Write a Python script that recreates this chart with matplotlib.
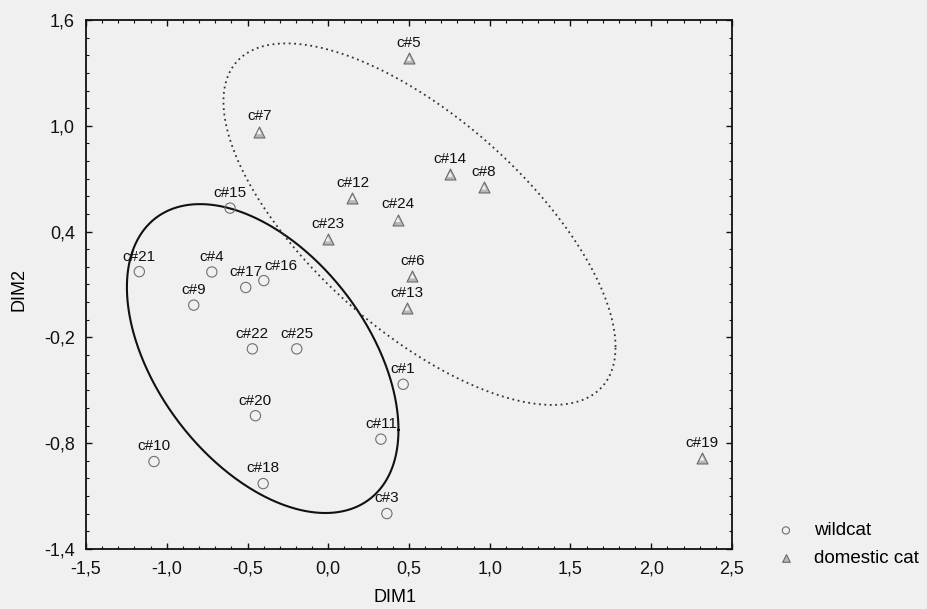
import numpy as np
import matplotlib
matplotlib.use('Agg')
import matplotlib.pyplot as plt
from matplotlib.ticker import MultipleLocator, FixedLocator, FuncFormatter

plt.rcParams['font.family'] = ['Liberation Sans', 'DejaVu Sans']

# wildcat samples (DIM1, DIM2)
wild_labels = ['c#1', 'c#3', 'c#4', 'c#9', 'c#10', 'c#11', 'c#15', 'c#16', 'c#17',
               'c#18', 'c#20', 'c#21', 'c#22', 'c#25']
wild_x = [0.464, 0.363, -0.721, -0.833, -1.079, 0.326, -0.608, -0.399, -0.511,
          -0.403, -0.451, -1.170, -0.470, -0.195]
wild_y = [-0.466, -1.199, 0.171, -0.017, -0.904, -0.777, 0.533, 0.122, 0.083,
          -1.029, -0.644, 0.173, -0.265, -0.265]

# domestic cat samples
dom_labels = ['c#5', 'c#6', 'c#7', 'c#8', 'c#12', 'c#13', 'c#14', 'c#19', 'c#23', 'c#24']
dom_x = [0.501, 0.520, -0.428, 0.964, 0.150, 0.489, 0.755, 2.315, -0.003, 0.431]
dom_y = [1.382, 0.148, 0.967, 0.652, 0.592, -0.034, 0.724, -0.885, 0.358, 0.468]

# ellipses: centre and covariance-like matrix [[a, c], [c, b]]
wild_center = (-0.406, -0.320)
wild_cov = [[0.707, -0.340], [-0.340, 0.767]]
dom_center = (0.565, 0.442)
dom_cov = [[1.474, -0.845], [-0.845, 1.051]]

x_ticks = [-1.5, -1.0, -0.5, 0.0, 0.5, 1.0, 1.5, 2.0, 2.5]
y_ticks = [-1.4, -0.8, -0.2, 0.4, 1.0, 1.6]

# label nudges (points) where the label would collide
label_dx = {'c#16': 12}

bg = '#f0f0f1'
fig = plt.figure(figsize=(9.27, 6.09), dpi=100, facecolor=bg)
ax = fig.add_axes([0.0928, 0.0985, 0.6968, 0.8687], facecolor=bg)


def ellipse_xy(center, cov):
    t = np.linspace(0, 2 * np.pi, 500)
    L = np.linalg.cholesky(np.array(cov))
    pts = L @ np.vstack([np.cos(t), np.sin(t)])
    return pts[0] + center[0], pts[1] + center[1]


ex, ey = ellipse_xy(wild_center, wild_cov)
ax.plot(ex, ey, color='#111111', lw=1.5, zorder=2)
ex, ey = ellipse_xy(dom_center, dom_cov)
ax.plot(ex, ey, color='#333333', lw=1.3, linestyle=(0, (1, 2)), zorder=2)

ax.scatter(wild_x, wild_y, s=55, marker='o', facecolors='none',
           edgecolors='#707070', linewidths=0.8, zorder=3, label='wildcat')
ax.scatter(dom_x, dom_y, s=62, marker='^', facecolors='#b8b8b8',
           edgecolors='#6a6a6a', linewidths=0.8, zorder=3, label='domestic cat')
ax.scatter(dom_x, dom_y, s=12, marker='^', facecolors='#f2f2f2',
           edgecolors='none', zorder=4)

for labels, xs, ys in [(wild_labels, wild_x, wild_y), (dom_labels, dom_x, dom_y)]:
    for lab, x, y in zip(labels, xs, ys):
        ax.annotate(lab, xy=(x, y), xytext=(label_dx.get(lab, 0), 8),
                    textcoords='offset points', ha='center', va='baseline',
                    fontsize=11, color='#111111', zorder=5)

ax.set_xlim(-1.5, 2.5)
ax.set_ylim(-1.4, 1.6)
ax.xaxis.set_major_locator(FixedLocator(x_ticks))
ax.xaxis.set_minor_locator(MultipleLocator(0.1))
ax.yaxis.set_major_locator(FixedLocator(y_ticks))
ax.yaxis.set_minor_locator(MultipleLocator(0.1))
fmt = FuncFormatter(lambda v, p: f'{v:.1f}'.replace('.', ',').replace('-0,0', '0,0'))
ax.xaxis.set_major_formatter(fmt)
ax.yaxis.set_major_formatter(fmt)
ax.tick_params(which='both', direction='in', top=True, right=True,
               labelsize=13, colors='#111111')
ax.tick_params(which='major', length=4, width=1, pad=8)
ax.tick_params(which='minor', length=2, width=0.8)
for s in ax.spines.values():
    s.set_linewidth(1.3)
    s.set_color('#111111')

ax.set_xlabel('DIM1', fontsize=13)
ax.xaxis.set_label_coords(0.478, -0.075)
ax.set_ylabel('DIM2', fontsize=13)
ax.yaxis.set_label_coords(-0.09, 0.49)

fig.legend(*ax.get_legend_handles_labels(), loc='center left',
           bbox_to_anchor=(0.8296, 0.1059), frameon=False,
           fontsize=13.5, handlelength=1.0, handletextpad=1.0,
           labelspacing=0.55, markerscale=0.7, borderaxespad=0)

plt.savefig('out.png', dpi=100, facecolor=bg)
